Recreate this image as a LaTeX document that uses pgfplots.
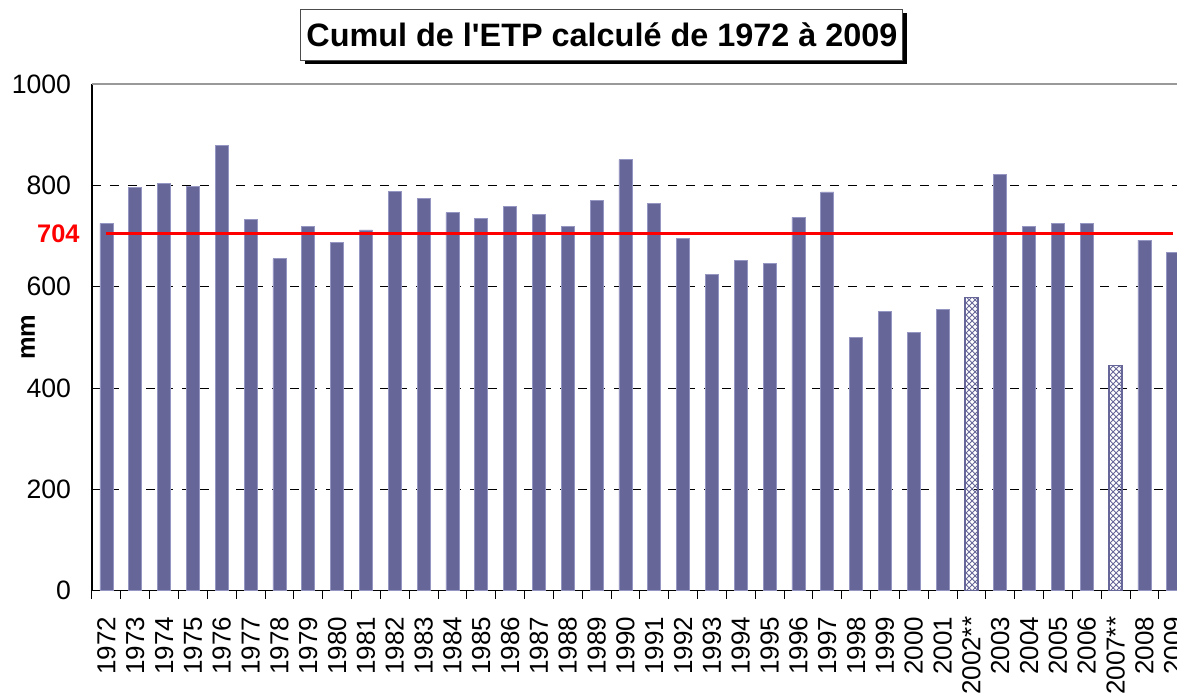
\documentclass[border=0pt]{standalone}
\usepackage{fontspec}
\setmainfont{Liberation Sans}
\usepackage{pgfplots}
\pgfplotsset{compat=1.18}
\usetikzlibrary{patterns}
\definecolor{barcol}{RGB}{102,102,153}
\definecolor{baredge}{RGB}{150,150,195}

\pgfplotstableread{
x y
0 725
1 796
2 803
3 797
4 878
5 732
6 655
7 718
8 687
9 712
10 788
11 774
12 746
13 734
14 758
15 743
16 718
17 770
18 851
19 764
20 695
21 625
22 651
23 645
24 737
25 787
26 500
27 551
28 509
29 555
31 822
32 719
33 725
34 725
36 692
37 668
}\mesures

\pgfplotstableread{
x y
30 578
35 445
}\partiels

\begin{document}
\begin{tikzpicture}
\begin{axis}[
  scale only axis,
  width=542.5pt, height=253.35pt,
  xmin=-0.5, xmax=37.13,
  ymin=0, ymax=1000,
  clip mode=individual,
  axis x line*=bottom, axis y line*=left,
  axis line style={black, line width=0.6pt, -},
  xtick={0,...,37},
  xticklabels={1972,1973,1974,1975,1976,1977,1978,1979,1980,1981,1982,1983,1984,1985,1986,1987,1988,1989,1990,1991,1992,1993,1994,1995,1996,1997,1998,1999,2000,2001,2002**,2003,2004,2005,2006,2007**,2008,2009},
  minor xtick={-0.5,0.5,...,37.5},
  tick align=outside,
  major tick length=0pt,
  minor tick length=4pt,
  tick style={black, line width=0.5pt},
  x tick label style={rotate=90, anchor=east, font=\fontsize{13}{15}\selectfont},
  xticklabel shift=9.5pt,
  ytick={0,200,400,600,800,1000},
  y tick label style={font=\fontsize{13.3}{15}\selectfont},
  yticklabel shift=7pt,
  extra y ticks={200,400,600,800},
  extra y tick labels={},
  extra y tick style={ymajorgrids=true, major grid style={black, line width=0.5pt, dash pattern=on 4.5pt off 4.5pt}},
  /pgf/number format/assume math mode=true,
  /pgf/number format/set thousands separator={},
]
\draw[gray!80, line width=0.6pt] (rel axis cs:0,1) -- (rel axis cs:1,1);

\addplot[ybar, bar width=6.5pt, fill=barcol, draw=baredge, line width=0.4pt] table[x=x,y=y] {\mesures};
\addplot[ybar, bar width=6.5pt, pattern=crosshatch, pattern color=barcol, draw=barcol, line width=0.6pt] table[x=x,y=y] {\partiels};

\addplot[red, line width=1.5pt] coordinates {(0,704) (37,704)};

\path (axis cs:-0.5,704) ++(-6pt,0pt) node[anchor=east, text=red, inner sep=0pt, font=\bfseries\fontsize{12.7}{15}\selectfont] {704};
\path (rel axis cs:0,0.5) ++(-32pt,0pt) node[rotate=90, inner sep=0pt, font=\bfseries\fontsize{12.7}{15}\selectfont] {mm};

\path (rel axis cs:0.47,1) ++(2pt,22.65pt) node[fill=black, inner sep=0pt, minimum width=301pt, minimum height=25.5pt] {};
\path (rel axis cs:0.47,1) ++(0pt,24.65pt) node[fill=white, draw=black!70, line width=0.5pt, inner sep=0pt, minimum width=301pt, minimum height=25.5pt, font=\bfseries\fontsize{16.2}{19}\selectfont] {Cumul de l\textquotesingle ETP calculé de 1972 à 2009};

\coordinate (sw) at (rel axis cs:0,0);
\end{axis}
\pgfresetboundingbox
\useasboundingbox (sw) ++(-46pt,-51.15pt) rectangle ++(588.5pt,346.5pt);
\end{tikzpicture}
\end{document}
